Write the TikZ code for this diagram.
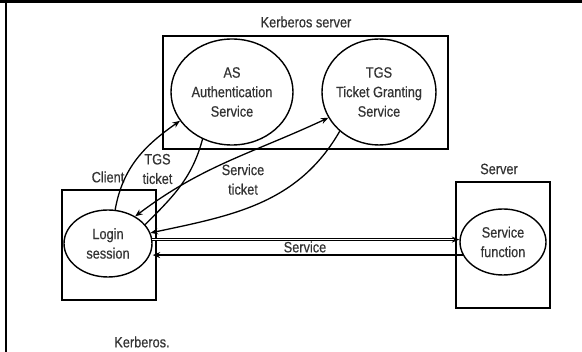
\documentclass[tikz,border=0pt]{standalone}
\usepackage{fontspec}
\setmainfont{Liberation Sans}[FakeStretch=0.85,FakeBold=0.5]
\usepackage{xcolor}
\usetikzlibrary{shapes,arrows,arrows.meta,positioning,calc}

\begin{document}
\begin{tikzpicture}[x=1pt,y=1pt,
    lbl/.style={font=\fontsize{15}{19.5}\selectfont, text=black!80, align=center},
    box/.style={draw, line width=1.4pt, inner sep=0pt},
    svc/.style={draw, ellipse, line width=1.4pt, inner sep=0pt},
    arr/.style={line width=1.3pt, -{Stealth[length=7.5pt,width=6pt]}},
    dblarr/.style={line width=1.3pt, {Stealth[length=7.5pt,width=6pt]}-{Stealth[length=7.5pt,width=6pt]}}]
    \useasboundingbox (0,0) rectangle (582,-352);

    % Page frame
    \draw[line width=3pt] (0,-1.5) -- (582,-1.5);
    \draw[line width=2pt] (5.5,0) -- (5.5,-352);

    % Kerberos server
    \node[box, minimum width=285, minimum height=113] (kserver) at (305.5,-92.5) {};
    \node[lbl] (kserverlbl) at (306,-22) {Kerberos server};
    \node[svc, minimum width=122, minimum height=106,
          label={[lbl]center:AS\\Authentication\\Service}] (as) at (232,-92) {};
    \node[svc, minimum width=114, minimum height=106,
          label={[lbl]center:TGS\\Ticket Granting\\Service}] (tgs) at (379,-92) {};

    % Client
    \node[box, minimum width=94, minimum height=110] (client) at (109,-245) {};
    \node[lbl] (clientlbl) at (108,-177) {Client};
    \node[svc, minimum width=88, minimum height=67,
          label={[lbl]center:Login\\session}] (login) at (108,-243.5) {};

    % Server
    \node[box, minimum width=94, minimum height=126] (server) at (503,-245) {};
    \node[lbl] (serverlbl) at (499,-169) {Server};
    \node[svc, minimum width=86, minimum height=66,
          label={[lbl]center:Service\\function}] (func) at (503,-242) {};

    % Tickets
    \draw[arr] (login.78) to[out=80,in=215] (as.209);
    \draw[line width=1.3pt] (as.238) to[out=255,in=45] (login.27);
    \draw[dblarr] (login.45) to[out=37,in=205] (tgs.207);
    \draw[arr] (tgs.225) to[out=240,in=12] (login.14);
    \node[lbl] (tgsticket) at (157.5,-169) {TGS\\ticket};
    \node[lbl] (svcticket) at (243,-179.5) {Service\\ticket};

    % Service
    \draw[line width=0.9pt, double, double distance=1pt, -{Stealth[length=7.5pt,width=6pt]}]
        (login.5) -- (login.5 -| func.west);
    \draw[arr] (func.198) -- (func.198 -| login.east);
    \node[lbl] (servicelbl) at (305,-247) {Service};

    % Caption
    \node[lbl] (caption) at (142,-342) {Kerberos.};
\end{tikzpicture}
\end{document}
